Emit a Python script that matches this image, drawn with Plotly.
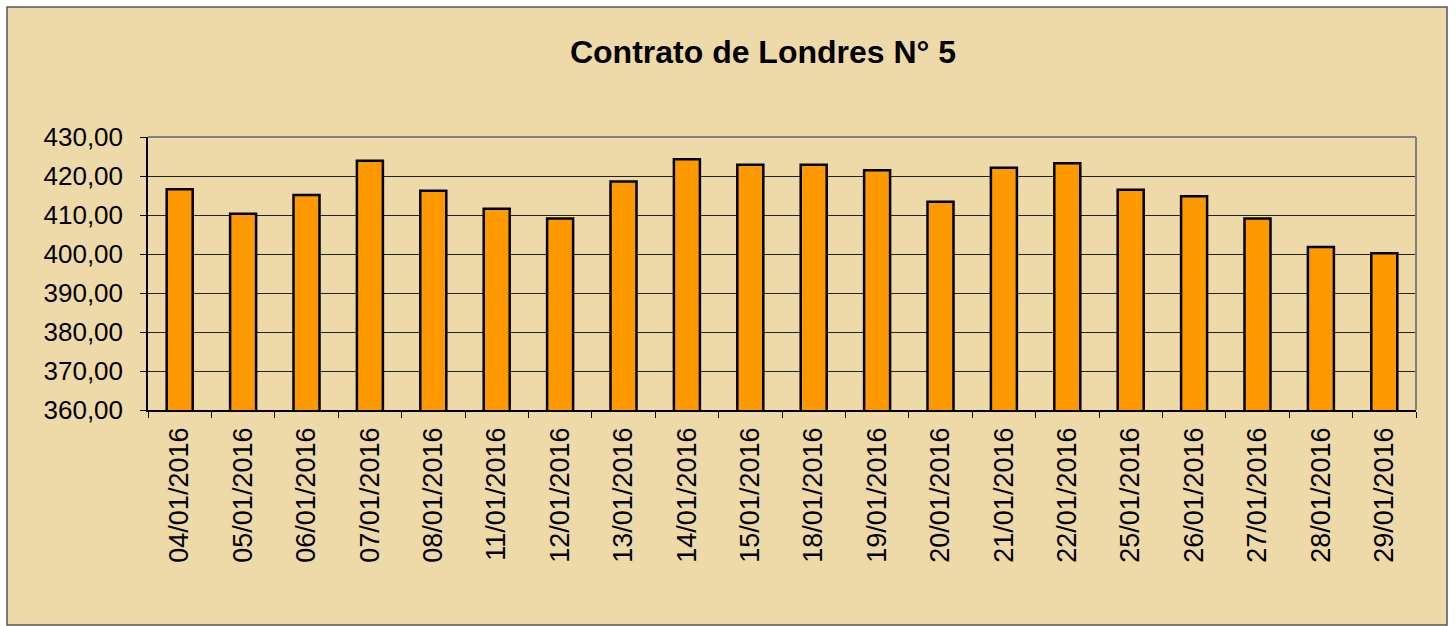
import plotly.graph_objects as go

fechas = ["04/01/2016", "05/01/2016", "06/01/2016", "07/01/2016", "08/01/2016",
          "11/01/2016", "12/01/2016", "13/01/2016", "14/01/2016", "15/01/2016",
          "18/01/2016", "19/01/2016", "20/01/2016", "21/01/2016", "22/01/2016",
          "25/01/2016", "26/01/2016", "27/01/2016", "28/01/2016", "29/01/2016"]
precios = [416.6, 410.3, 415.1, 423.9, 416.2, 411.6, 409.1, 418.6, 424.3, 422.9,
           422.9, 421.5, 413.4, 422.1, 423.3, 416.5, 414.8, 409.1, 401.8, 400.2]
y_ticks = [360, 370, 380, 390, 400, 410, 420, 430]
y_labels = [("%.2f" % v).replace(".", ",") for v in y_ticks]

fig = go.Figure(go.Bar(
    x=fechas, y=precios,
    marker=dict(color="#FF9900", line=dict(color="black", width=2.5)),
))

# fondo tipo pergamino con borde fino
W, H = 1456, 626
L, R, T, B = 148, 40, 137, 216
pw, ph = W - L - R, H - T - B
def px_x(v):
    return (v - L) / pw
def px_y(v):
    return (H - B - v) / ph

fig.add_shape(type="rect", xref="paper", yref="paper", layer="below",
              x0=px_x(7), x1=px_x(1447), y0=px_y(625), y1=px_y(7),
              fillcolor="#EEDAA8", line=dict(color="#555555", width=1.5))

fig.update_layout(
    width=W, height=H,
    margin=dict(l=L, r=R, t=T, b=B),
    paper_bgcolor="white",
    plot_bgcolor="rgba(0,0,0,0)",
    bargap=0.59,
    showlegend=False,
    title=dict(text="<b>Contrato de Londres N° 5</b>", x=763 / W, xanchor="center",
               y=1 - 52 / H, yanchor="middle",
               font=dict(family="Liberation Sans, Arial", size=32, color="black")),
    font=dict(family="Liberation Sans, Arial", color="black"),
)
fig.update_yaxes(range=[360, 430], tickvals=y_ticks, ticktext=y_labels,
                 tickfont=dict(size=26), showgrid=True, gridcolor="#222222",
                 gridwidth=1.2, showline=True, linecolor="black", linewidth=1.5,
                 ticks="outside", ticklen=6, tickcolor="black", zeroline=False,
                 ticklabelstandoff=12)
fig.update_xaxes(tickangle=-90, tickfont=dict(size=27), showline=True,
                 linecolor="black", linewidth=1.5, ticks="outside", ticklen=6,
                 tickcolor="black", tickson="boundaries", showgrid=False,
                 ticklabelstandoff=5)
# borde gris superior y derecho del área de trazado
fig.add_shape(type="line", xref="paper", yref="paper", x0=0, x1=1, y0=1, y1=1,
              line=dict(color="#808080", width=2))
fig.add_shape(type="line", xref="paper", yref="paper", x0=1, x1=1, y0=0, y1=1,
              line=dict(color="#808080", width=2))

fig.write_html("out.html", config={"displayModeBar": False},
               post_script="document.body.style.margin='0';")
